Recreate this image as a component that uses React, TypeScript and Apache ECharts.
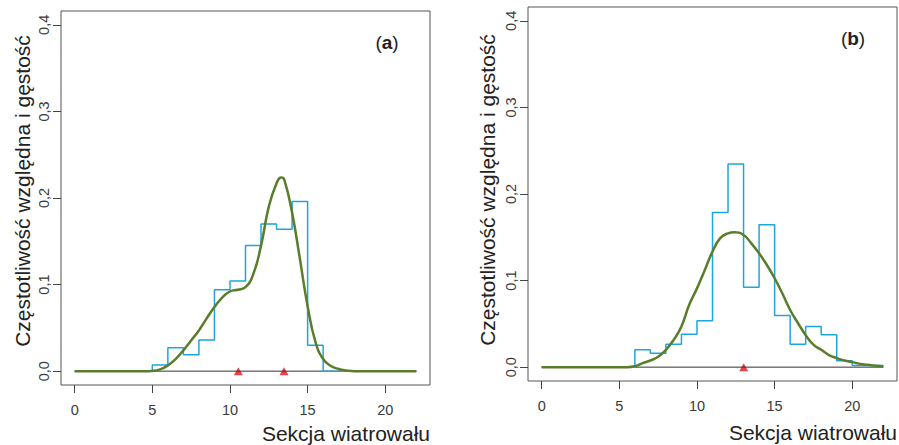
import React, { useEffect, useRef } from "react";
import * as echarts from "echarts";

// Histogram bins: width 1, starting at 0 (relative frequency)
const binStart = 0;
const histA = [0, 0, 0, 0, 0, 0.007, 0.027, 0.019, 0.036, 0.094, 0.104, 0.145, 0.17, 0.164, 0.196, 0.03, 0, 0, 0, 0, 0, 0];
const histB = [0, 0, 0, 0, 0, 0, 0.02, 0.016, 0.0265, 0.038, 0.0535, 0.1785, 0.2346, 0.0923, 0.1646, 0.0596, 0.0265, 0.047, 0.0373, 0.0073, 0.002, 0.002];

// Density curves
const densXA = [0, 4.5, 5, 5.5, 6, 6.5, 7, 7.5, 8, 8.5, 9, 9.5, 10, 10.5, 11, 11.5, 12, 12.5, 13, 13.3, 13.5, 14, 14.5, 15, 15.5, 16, 16.5, 17, 17.5, 18, 22];
const densYA = [0, 0, 0.0003, 0.002, 0.0066, 0.014, 0.024, 0.0355, 0.047, 0.061, 0.074, 0.085, 0.092, 0.094, 0.097, 0.112, 0.145, 0.19, 0.217, 0.2236, 0.221, 0.183, 0.13, 0.075, 0.034, 0.014, 0.006, 0.0025, 0.0008, 0, 0];
const densXB = [0, 5.5, 6, 6.5, 7, 7.5, 8, 8.5, 9, 9.5, 10, 10.5, 11, 11.5, 12, 12.4, 13, 13.5, 14, 14.5, 15, 15.5, 16, 16.5, 17, 17.5, 18, 18.5, 19, 19.5, 20, 20.5, 21, 21.5, 22];
const densYB = [0, 0, 0.001, 0.0046, 0.0077, 0.012, 0.02, 0.0315, 0.047, 0.072, 0.091, 0.112, 0.1335, 0.149, 0.1546, 0.1558, 0.1527, 0.143, 0.1315, 0.118, 0.1027, 0.085, 0.066, 0.051, 0.037, 0.026, 0.02, 0.014, 0.0104, 0.0077, 0.0058, 0.0038, 0.0027, 0.0015, 0.0008];

// Markers (red triangles on the baseline)
const markA = [10.54, 13.48];
const markB = [13.01];

const xTicks = [0, 5, 10, 15, 20];
const yTicks = [0, 0.1, 0.2, 0.3, 0.4];
const xTitle = "Sekcja wiatrowału";
const yTitle = "Częstotliwość względna i gęstość";
const panelLabels = ["a", "b"];

const FONT = "'Liberation Sans', Arial, sans-serif";
const BLUE = "#1ea5de";
const GREEN = "#5a7d2c";
const RED = "#e3101c";

function stepPts(h: number[]) {
  const pts: number[][] = [];
  h.forEach((v, i) => {
    pts.push([binStart + i, v]);
    pts.push([binStart + i + 1, v]);
  });
  return pts;
}

function zip(xs: number[], ys: number[]) {
  return xs.map((x, i) => [x, ys[i]]);
}

export default function App() {
  const ref = useRef<HTMLDivElement>(null);
  useEffect(() => {
    if (!ref.current) return;
    const chart = echarts.init(ref.current, null, { renderer: "svg" });
    const grids = [
      { left: 61, top: 11, width: 369, height: 374 },
      { left: 528, top: 7, width: 369, height: 374 },
    ];
    const xAxes = grids.map((_, i) => ({
      type: "value",
      gridIndex: i,
      position: "bottom",
      min: -0.88,
      max: 22.88,
      axisLine: { show: false, onZero: false },
      splitLine: { show: false },
      axisTick: { show: true, length: 8, customValues: xTicks, lineStyle: { color: "#444", width: 1 } },
      axisLabel: {
        customValues: xTicks,
        margin: 17,
        fontSize: 14.5,
        color: "#3a3a3a",
        fontFamily: FONT,
      },
    }));
    const yAxes = grids.map((_, i) => ({
      type: "value",
      gridIndex: i,
      position: "left",
      min: -0.016,
      max: 0.416,
      axisLine: { show: false, onZero: false },
      splitLine: { show: false },
      axisTick: { show: true, length: 8, customValues: yTicks, lineStyle: { color: "#444", width: 1 } },
      axisLabel: {
        customValues: yTicks,
        rotate: 90,
        margin: 10,
        fontSize: 14.5,
        color: "#3a3a3a",
        fontFamily: FONT,
        formatter: (v: number) => v.toFixed(1).replace(".", ","),
      },
    }));
    const series: any[] = [];
    const hists = [histA, histB];
    const dens = [zip(densXA, densYA), zip(densXB, densYB)];
    const marks = [markA, markB];
    for (let i = 0; i < 2; i++) {
      series.push({
        type: "line",
        xAxisIndex: i,
        yAxisIndex: i,
        data: [[0, 0], [22, 0]],
        symbol: "none",
        lineStyle: { color: "#333", width: 1 },
        silent: true,
      });
      series.push({
        type: "line",
        xAxisIndex: i,
        yAxisIndex: i,
        data: stepPts(hists[i]),
        symbol: "none",
        lineStyle: { color: BLUE, width: 1.5 },
        silent: true,
      });
      series.push({
        type: "line",
        xAxisIndex: i,
        yAxisIndex: i,
        data: dens[i],
        symbol: "none",
        smooth: 0.5,
        lineStyle: { color: GREEN, width: 2.5 },
        silent: true,
      });
      series.push({
        type: "scatter",
        xAxisIndex: i,
        yAxisIndex: i,
        data: marks[i].map((x) => [x, 0]),
        symbol: "triangle",
        symbolSize: [9, 8],
        itemStyle: { color: RED },
        silent: true,
      });
    }
    const graphic: any[] = [
      {
        type: "text",
        x: 430,
        y: 433,
        style: { text: xTitle, font: `21px ${FONT}`, fill: "#222", textAlign: "right", textVerticalAlign: "middle" },
      },
      {
        type: "text",
        x: 897,
        y: 432,
        style: { text: xTitle, font: `21px ${FONT}`, fill: "#222", textAlign: "right", textVerticalAlign: "middle" },
      },
      {
        type: "text",
        x: 22,
        y: 191,
        rotation: Math.PI / 2,
        style: { text: yTitle, font: `21px ${FONT}`, fill: "#222", textAlign: "center", textVerticalAlign: "middle" },
      },
      {
        type: "text",
        x: 487,
        y: 190,
        rotation: Math.PI / 2,
        style: { text: yTitle, font: `21px ${FONT}`, fill: "#222", textAlign: "center", textVerticalAlign: "middle" },
      },
      {
        type: "text",
        x: 387,
        y: 42,
        style: {
          text: `(${"{b|" + panelLabels[0] + "}"})`,
          font: `19px ${FONT}`,
          fill: "#222",
          textAlign: "center",
          textVerticalAlign: "middle",
          rich: { b: { fontWeight: "bold", fontSize: 19, fontFamily: FONT, fill: "#222" } },
        },
      },
      {
        type: "text",
        x: 853,
        y: 38,
        style: {
          text: `(${"{b|" + panelLabels[1] + "}"})`,
          font: `19px ${FONT}`,
          fill: "#222",
          textAlign: "center",
          textVerticalAlign: "middle",
          rich: { b: { fontWeight: "bold", fontSize: 19, fontFamily: FONT, fill: "#222" } },
        },
      },
    ];
    chart.setOption({
      animation: false,
      backgroundColor: "#fff",
      textStyle: { fontFamily: FONT },
      grid: grids.map((g) => ({ ...g, show: true, borderColor: "#555", borderWidth: 1, backgroundColor: "transparent" })),
      xAxis: xAxes,
      yAxis: yAxes,
      series,
      graphic,
    });
    return () => chart.dispose();
  }, []);
  return <div ref={ref} style={{ position: "fixed", left: 0, top: 0, width: 899, height: 445 }} />;
}
